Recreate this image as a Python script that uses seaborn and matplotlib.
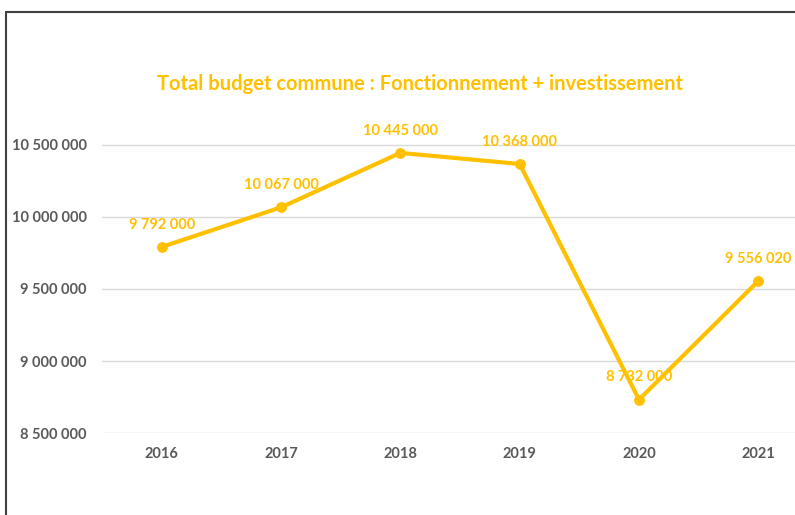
import matplotlib
matplotlib.use("Agg")
import matplotlib.pyplot as plt
import seaborn as sns
import pandas as pd
from matplotlib.patches import Rectangle

years = ["2016", "2017", "2018", "2019", "2020", "2021"]
budget = [9792000, 10067000, 10445000, 10368000, 8732000, 9556020]
y_ticks = [8500000, 9000000, 9500000, 10000000, 10500000]
title = "Total budget commune : Fonctionnement + investissement"

GOLD = "#FFC000"
GREY = "#595959"


def fmt(v):
    return f"{v:,.0f}".replace(",", " ")


sns.set_theme(style="white")
plt.rcParams["font.family"] = ["Lato", "DejaVu Sans"]

df = pd.DataFrame({"year": years, "budget": budget})

fig = plt.figure(figsize=(7.95, 5.15), dpi=100)
ax = fig.add_axes([0.1283, 0.1592, 0.9006, 0.6991])

# frame of the original chart (cropped on right and bottom)
fig.patches.append(Rectangle((0.008, -0.1), 1.2, 1.077, transform=fig.transFigure,
                             fill=False, edgecolor="#404040", linewidth=1.5, zorder=10))

sns.lineplot(data=df, x="year", y="budget", ax=ax, color=GOLD, linewidth=3,
             marker="o", markersize=7, markeredgecolor=GOLD, sort=False)

for i, v in enumerate(budget):
    ax.annotate(fmt(v), (i, v), xytext=(0, 11), textcoords="offset points",
                ha="center", va="bottom", color=GOLD, fontsize=10.5, fontweight="bold")

ax.set_xlim(-0.5, 5.5)
ax.set_ylim(8500000, 11000000)
ax.set_yticks(y_ticks)
ax.set_yticklabels([fmt(v) for v in y_ticks])
ax.grid(axis="y", color="#D9D9D9", linewidth=1)
ax.set_axisbelow(True)
for s in ax.spines.values():
    s.set_visible(False)
ax.tick_params(axis="y", pad=11, length=0, labelsize=10.5, labelcolor=GREY)
ax.tick_params(axis="x", pad=10, length=0, labelsize=10.5, labelcolor=GREY)
for lab in ax.get_xticklabels() + ax.get_yticklabels():
    lab.set_fontweight("bold")
ax.set_xlabel("")
ax.set_ylabel("")

fig.text(0.528, 0.836, title, ha="center", va="center", color=GOLD,
         fontsize=14.5, fontweight="bold")

fig.savefig("out.png", dpi=100, facecolor="white")
